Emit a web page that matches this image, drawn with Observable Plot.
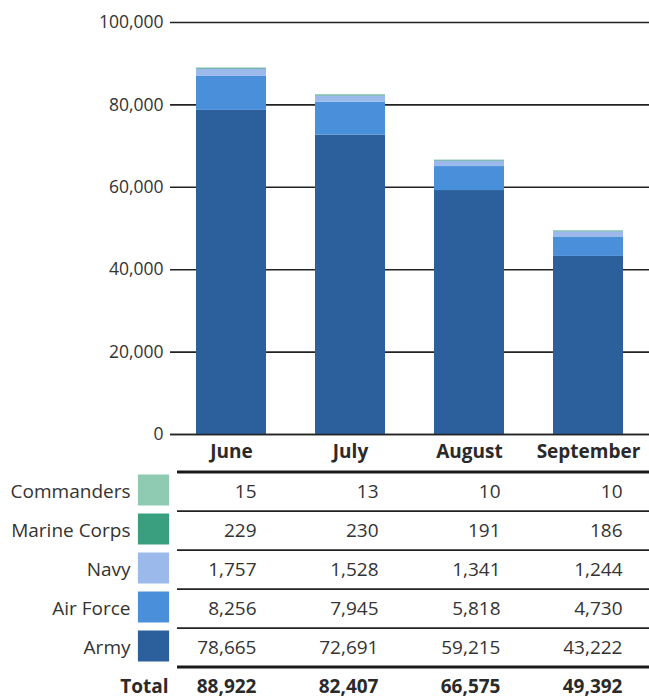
<!DOCTYPE html>
<html><head><meta charset="utf-8">
<script src="https://cdn.jsdelivr.net/npm/d3@7"></script>
<script src="https://cdn.jsdelivr.net/npm/@observablehq/plot@0.6"></script>
<style>
body{margin:0;background:#fff;font-family:"Open Sans",sans-serif;}
#chart svg{display:block;overflow:visible;}
</style></head>
<body><div id="chart"></div>
<script>
const months = ["June","July","August","September"];
const branches = ["Commanders","Marine Corps","Navy","Air Force","Army"];
const branchColors = ["#8ecbb2","#3a9f7f","#9cb9ec","#4a8fda","#2c609c"];
const commanders = [15,13,10,10];
const marineCorps = [229,230,191,186];
const navy = [1757,1528,1341,1244];
const airForce = [8256,7945,5818,4730];
const army = [78665,72691,59215,43222];
const totals = [88922,82407,66575,49392];
const yTicks = [0,20000,40000,60000,80000,100000];

const seriesByBranch = {"Commanders":commanders,"Marine Corps":marineCorps,"Navy":navy,"Air Force":airForce,"Army":army};
// stacking order: Army at bottom
const stackOrder = ["Army","Air Force","Navy","Marine Corps","Commanders"];
const barData = [];
for (const b of stackOrder) months.forEach((m,i)=>barData.push({month:m, branch:b, value:seriesByBranch[b][i]}));
const tableData = [];
for (const b of branches) months.forEach((m,i)=>tableData.push({month:m, branch:b, value:seriesByBranch[b][i]}));
const totalData = months.map((m,i)=>({month:m, value:totals[i]}));
const rows = [...branches, "Total"];
const fmt = d3.format(",");
const colorScale = {domain: branches, range: branchColors};
const font = "Open Sans, sans-serif";

const bars = Plot.plot({
  width:649, height:460, marginLeft:170, marginRight:0, marginTop:22, marginBottom:26,
  style:{fontFamily:font, fontSize:"17.5px", color:"#333", background:"#fff", overflow:"visible"},
  x: {type:"band", domain:months, paddingInner:0.41, paddingOuter:0.2175, align:0.5, axis:null},
  y: {domain:[0,100000], axis:null},
  color: colorScale,
  marks: [
    Plot.ruleY(yTicks, {stroke:"#222", strokeWidth:1.6}),
    Plot.barY(barData, {x:"month", y:"value", fill:"branch"}),
    Plot.ruleY([0], {stroke:"#222", strokeWidth:1.6}),
    Plot.axisY({ticks:yTicks, tickSize:0, tickPadding:7, tickFormat:fmt, label:null, fill:"#333", fontSize:17.5}),
    Plot.text(months, {x:d=>d, frameAnchor:"bottom", lineAnchor:"middle", dy:17, text:d=>d, fontWeight:"bold", fontSize:19, fill:"#2a2a2a"})
  ]
});

const table = Plot.plot({
  width:649, height:238, marginLeft:177, marginRight:0, marginTop:0, marginBottom:0,
  style:{fontFamily:font, fontSize:"19px", color:"#333", background:"#fff", overflow:"visible"},
  x: {type:"point", domain:months, range:[256,622], padding:0, axis:null},
  y: {type:"band", domain:rows, range:[9,248], padding:0, axis:null},
  color: colorScale,
  marks: [
    Plot.ruleY(["Commanders","Total"], {y:d=>d, dy:-19.9, stroke:"#1a1a1a", strokeWidth:3}),
    Plot.ruleY(["Marine Corps","Navy","Air Force","Army"], {y:d=>d, dy:-19.9, stroke:"#222", strokeWidth:1.6}),
    Plot.text(branches, {y:d=>d, text:d=>d, frameAnchor:"left", dx:-47, textAnchor:"end", fontSize:19, fill:"#333"}),
    Plot.dot(branches, {y:d=>d, fill:d=>d, symbol:"square", r:17.6, frameAnchor:"left", dx:-24, dy:-2}),
    Plot.text(tableData, {x:"month", y:"branch", text:d=>fmt(d.value), textAnchor:"end", fontSize:19, fill:"#333"}),
    Plot.text(["Total"], {y:d=>d, text:d=>d, frameAnchor:"left", dx:-9, textAnchor:"end", fontWeight:"bold", fontSize:19, fill:"#2a2a2a"}),
    Plot.text(totalData, {x:"month", y:()=>"Total", text:d=>fmt(d.value), textAnchor:"end", fontWeight:"bold", fontSize:19, fill:"#2a2a2a"})
  ]
});

const c = document.getElementById("chart");
c.appendChild(bars);
c.appendChild(table);
</script></body></html>
